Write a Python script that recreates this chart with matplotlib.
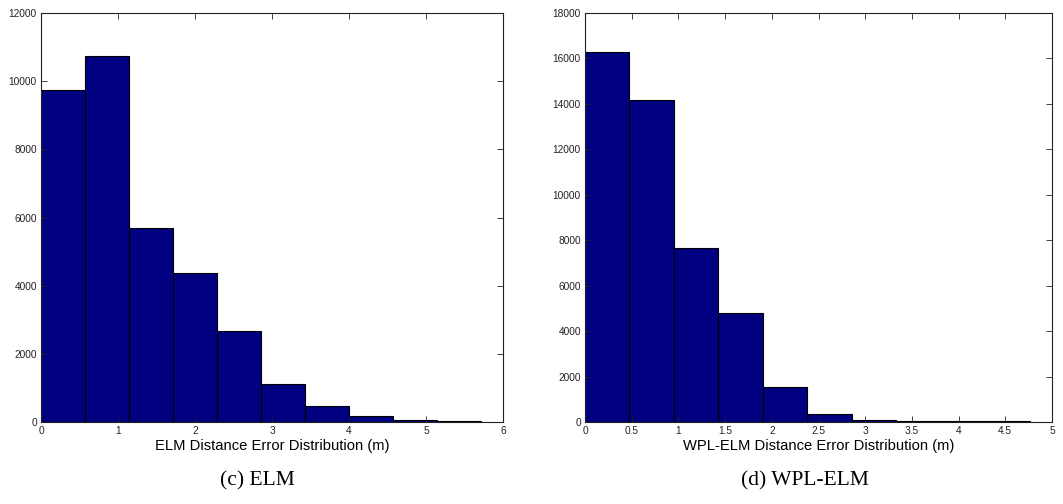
import numpy as np
import matplotlib
matplotlib.use("Agg")
import matplotlib.pyplot as plt

# histogram counts, 10 bins each
elm_bin_width = 0.5714
elm_counts = [9740, 10750, 5700, 4370, 2680, 1120, 480, 170, 55, 20]

wpl_bin_width = 0.4762
wpl_counts = [16280, 14160, 7660, 4790, 1560, 360, 110, 60, 50, 45]

elm_xticks = [0, 1, 2, 3, 4, 5, 6]
elm_yticks = [0, 2000, 4000, 6000, 8000, 10000, 12000]
wpl_xticks = [0, 0.5, 1, 1.5, 2, 2.5, 3, 3.5, 4, 4.5, 5]
wpl_yticks = [0, 2000, 4000, 6000, 8000, 10000, 12000, 14000, 16000, 18000]

plt.rcParams['font.family'] = ['Liberation Sans', 'DejaVu Sans']

fig = plt.figure(figsize=(10.63, 5.04), dpi=100)
W, H = 1063.0, 504.0
ax1 = fig.add_axes([41 / W, 1 - 422 / H, 462 / W, 409 / H])
ax2 = fig.add_axes([585 / W, 1 - 422 / H, 467 / W, 409 / H])


def draw_hist(ax, counts, width, xlim, ylim, xticks, yticks, xlabel):
    edges = np.arange(len(counts)) * width
    ax.bar(edges, counts, width=width, align='edge',
           color=(0, 0, 0.5), edgecolor='black', linewidth=0.8)
    ax.set_xlim(*xlim)
    ax.set_ylim(*ylim)
    ax.set_xticks(xticks)
    ax.set_yticks(yticks)
    ax.set_xticklabels([('%g' % t) for t in xticks])
    ax.set_yticklabels([('%d' % t) for t in yticks])
    ax.tick_params(direction='in', length=4, width=0.6, labelsize=7.3,
                   top=True, right=True, colors='#222222', pad=3)
    for s in ax.spines.values():
        s.set_linewidth(0.8)
        s.set_color('#222222')
    ax.set_xlabel(xlabel, fontsize=10.6, labelpad=2)


draw_hist(ax1, elm_counts, elm_bin_width, (0, 6), (0, 12000),
          elm_xticks, elm_yticks, 'ELM Distance Error Distribution (m)')
draw_hist(ax2, wpl_counts, wpl_bin_width, (0, 5), (0, 18000),
          wpl_xticks, wpl_yticks, 'WPL-ELM Distance Error Distribution (m)')

fig.text(257 / W, 1 - 481 / H, '(c) ELM', ha='center', va='center',
         fontsize=15.5, family=['Liberation Serif', 'DejaVu Serif'])
fig.text(805 / W, 1 - 481 / H, '(d) WPL-ELM', ha='center', va='center',
         fontsize=15.5, family=['Liberation Serif', 'DejaVu Serif'])

fig.savefig('out.png', dpi=100)
